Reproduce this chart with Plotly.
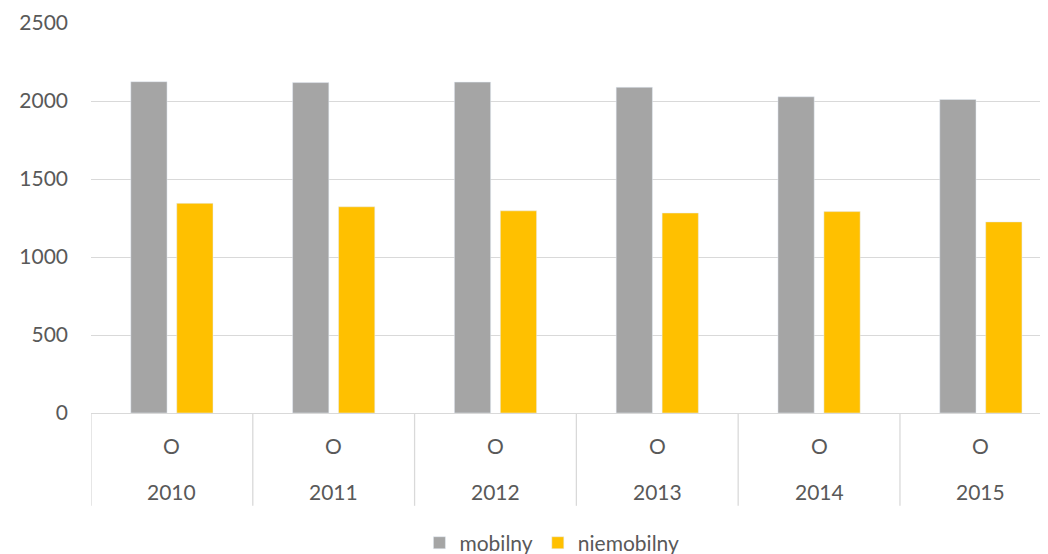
import plotly.graph_objects as go

years = ["2010", "2011", "2012", "2013", "2014", "2015"]
inner_labels = ["O", "O", "O", "O", "O", "O"]
mobilny = [2124, 2118, 2121, 2088, 2027, 2010]
niemobilny = [1344, 1322, 1296, 1282, 1291, 1225]
y_ticks = [0, 500, 1000, 1500, 2000, 2500]

FONT = "Lato"
TXT = "#595959"
GRID = "#d9d9d9"
FS = 21

x_idx = list(range(len(years)))

fig = go.Figure()
fig.add_trace(go.Bar(x=x_idx, y=mobilny, name="mobilny", marker_color="#a5a5a5"))
fig.add_trace(go.Bar(x=x_idx, y=niemobilny, name="niemobilny", marker_color="#ffc000"))

# category labels (two levels) and dividers
for i, (lab, yr) in enumerate(zip(inner_labels, years)):
    fig.add_annotation(x=i, y=-0.083, xref="x", yref="paper", text=lab, showarrow=False,
                       yanchor="middle", font=dict(family=FONT, size=FS, color=TXT))
    fig.add_annotation(x=i, y=-0.201, xref="x", yref="paper", text=yr, showarrow=False,
                       yanchor="middle", font=dict(family=FONT, size=FS, color=TXT))
for i in range(len(years) + 1):
    fig.add_shape(type="line", xref="x", yref="paper", x0=i - 0.5, x1=i - 0.5,
                  y0=0, y1=-0.238, line=dict(color=GRID, width=1.3))

fig.update_layout(
    width=1040, height=546,
    margin=dict(l=83, r=0, t=15, b=140.5, autoexpand=False),
    paper_bgcolor="white", plot_bgcolor="white",
    barmode="group", bargap=0.432, bargroupgap=0.211,
    font=dict(family=FONT, size=FS, color=TXT),
    showlegend=True,
    legend=dict(orientation="h", xref="container", yref="container",
                x=0.523, xanchor="center", y=0.02, yanchor="middle",
                font=dict(family=FONT, size=FS, color=TXT), itemwidth=30,
                traceorder="normal"),
)
fig.update_xaxes(range=[-0.5, 5.415], showticklabels=False, showgrid=False,
                 showline=True, linecolor=GRID, linewidth=1.3, zeroline=False,
                 automargin=False)
fig.update_yaxes(range=[0, 2500], tickvals=y_ticks, showgrid=True, gridcolor=GRID,
                 gridwidth=1.3, zeroline=False, showline=False, ticks="",
                 automargin=False,
                 ticklabelstandoff=22, tickfont=dict(family=FONT, size=FS, color=TXT))

fig.write_html("out.html")
